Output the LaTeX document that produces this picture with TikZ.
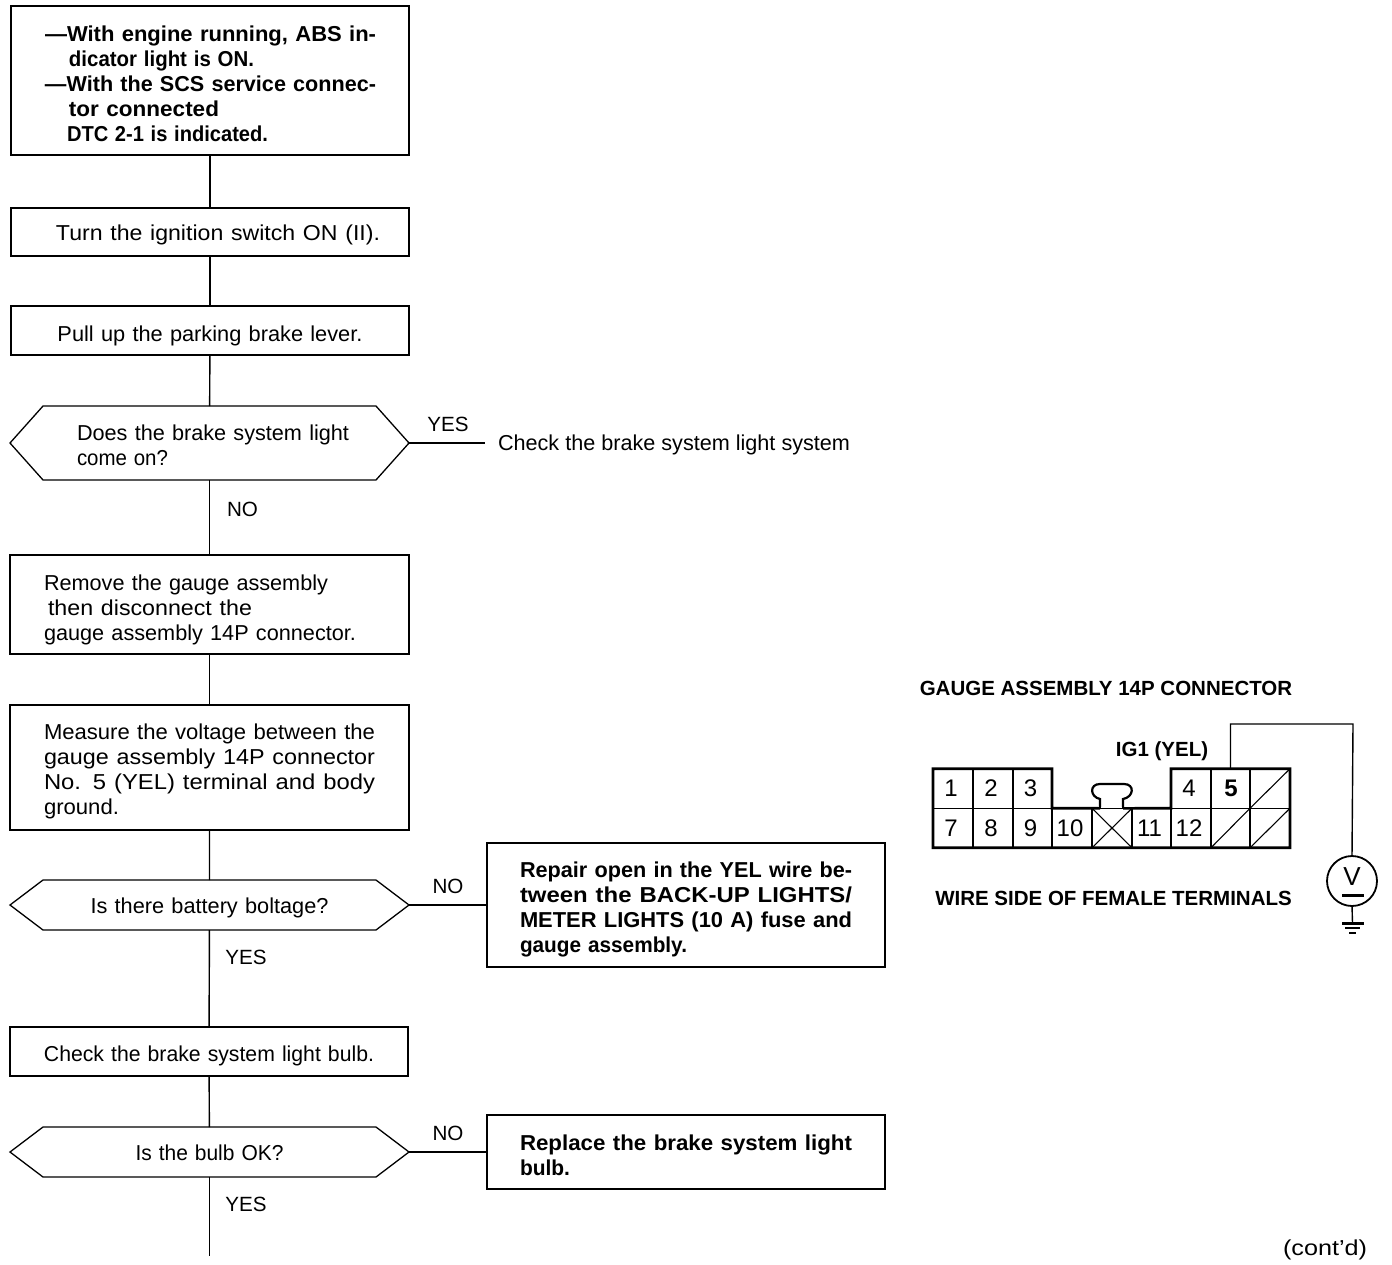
\documentclass[tikz,border=0pt]{standalone}
\usepackage{graphicx}
\usepackage{fontspec}
\setmainfont{Liberation Sans}
\usetikzlibrary{shapes.symbols}
% one line of text, set to a measured width
\newcommand{\FW}[2]{\resizebox{#1pt}{\height}{#2}}
\newcommand{\TL}[3]{\hspace*{#1pt}\FW{#2}{#3}}
\tikzset{
 x=1pt,y=-1pt,
 every node/.style={inner sep=0pt,outer sep=0pt,font=\fontsize{21.6}{25}\selectfont},
 drop/.style={execute at begin node={\rule{0pt}{\dimexpr16pt+#1\relax}}},
 flowbox/.style={draw=black,line width=1.4pt,rectangle,align=left,minimum height=#1},
 hexa/.style={draw=black,line width=1.3pt,shape=signal,signal to=west and east,align=left,minimum width=399pt},
 conn/.style={draw=black,line width=1.4pt},
 thinconn/.style={draw=black,line width=1.1pt},
 ans/.style={font=\fontsize{20.6}{25}\selectfont},
 hd/.style={font=\fontsize{20.5}{24}\bfseries\selectfont},
 strong/.style={font=\fontsize{21.6}{25}\bfseries\selectfont},
 cell/.style={draw=black,line width=1.2pt,minimum width=#1,minimum height=39.5pt,font=\fontsize{24}{28}\selectfont},
 outline/.style={draw=black,line width=2.6pt,line join=miter},
}
\begin{document}
\begin{tikzpicture}
\useasboundingbox (0,0) rectangle (1392,1264);
\fill[white] (0,0) rectangle (1392,1264);

% --- flow boxes
\node[flowbox=149pt,strong,text width=398pt,drop=7pt] (b1) at (210,80.5) {%
\TL{34}{331}{---With engine running, ABS in-}\\
\TL{58}{185}{dicator light is ON.}\\
\TL{34}{331}{---With the SCS service connec-}\\
\TL{58}{150}{tor connected}\\
\TL{56}{201}{DTC 2-1 is indicated.}};
\node[flowbox=48pt,text width=398pt,align=center,drop=6pt] (b2) at (210,232) {\hspace*{16pt}\FW{324}{Turn the ignition switch ON (II).}};
\node[flowbox=49pt,text width=398pt,align=center,drop=10pt] (b3) at (210,330.5) {\FW{305}{Pull up the parking brake lever.}};
\node[hexa,minimum height=74pt,signal pointer angle=96.5,text width=279pt,drop=4pt] (d1) at (209.5,443) {%
\TL{7}{272}{Does the brake system light}\\ \TL{7}{91}{come on?}};
\node[flowbox=99pt,text width=399pt,drop=10pt] (b4) at (209.5,604.5) {%
\TL{34}{284}{Remove the gauge assembly}\\
\TL{38}{204}{then disconnect the}\\
\TL{34}{312}{gauge assembly 14P connector.}};
\node[flowbox=125pt,text width=399pt,drop=8pt] (b5) at (209.5,767.5) {%
\TL{34}{331}{Measure the voltage between the}\\
\TL{34}{331}{gauge assembly 14P connector}\\
\TL{34}{331}{No. 5 (YEL) terminal and body}\\
\TL{34}{75}{ground.}};
\node[hexa,minimum height=50pt,signal pointer angle=74.3,text width=238pt,align=center,drop=6pt] (d2) at (209.5,905) {\FW{238}{Is there battery boltage?}};
\node[flowbox=49pt,text width=398pt,align=center,drop=8pt] (b6) at (209,1051.5) {\FW{330}{Check the brake system light bulb.}};
\node[hexa,minimum height=50pt,signal pointer angle=74.3,text width=148pt,align=center,drop=2pt] (d3) at (209.5,1152) {\FW{148}{Is the bulb OK?}};
\node[flowbox=124pt,strong,text width=398pt,drop=8pt] (r1) at (686,905) {%
\TL{33}{332}{Repair open in the YEL wire be-}\\
\TL{33}{332}{tween the BACK-UP LIGHTS/}\\
\TL{33}{332}{METER LIGHTS (10 A) fuse and}\\
\TL{33}{167}{gauge assembly.}};
\node[flowbox=74pt,strong,text width=398pt,drop=6pt] (r2) at (686,1152) {%
\TL{33}{332}{Replace the brake system light}\\
\TL{33}{50}{bulb.}};
\node[anchor=west,inner xsep=13pt] (chk) at (485,445) {\FW{352}{Check the brake system light system}};
\coordinate (endl) at (209.5,1256);

% --- connectors
\draw[conn] (b1) -- (b2);
\draw[conn] (b2) -- (b3);
\draw[conn] (b3) -- (d1);
\draw[conn] (d1) -- (b4);
\draw[conn] (b4) -- (b5);
\draw[conn] (b5) -- (d2);
\draw[conn] (d2) -- (b6);
\draw[conn] (b6) -- (d3);
\draw[conn] (d3) -- (endl);
\draw[thinconn] (d1.east) -- (chk.west |- d1.east);
\draw[conn] (d2.east) -- (r1.west |- d2.east);
\draw[conn] (d3.east) -- (r2.west |- d3.east);

% --- answers
\node[ans] (yes1) at (448,424) {YES};
\node[ans] (no1) at (242.5,509) {NO};
\node[ans] (no2) at (448,886) {NO};
\node[ans] (yes2) at (246,957) {YES};
\node[ans] (no3) at (448,1133) {NO};
\node[ans] (yes3) at (246,1204) {YES};

% --- connector diagram
\node[hd] (title) at (1106,688) {GAUGE ASSEMBLY 14P CONNECTOR};
\node[hd] (wire) at (1113.5,898) {WIRE SIDE OF FEMALE TERMINALS};
\node[hd] (ig) at (1162,751) {IG1 (YEL)};

\foreach \n/\t/\cx/\w in {c1/1/953/40,c2/2/993/40,c3/3/1032.5/39,c4/4/1191/40,c6//1270/40}
  \node[cell=\w pt] (\n) at (\cx,788.5) {\t\hspace*{4pt}};
\node[cell=39pt] (c5) at (1230.5,788.5) {\hspace*{1pt}\textbf{5}};
\foreach \n/\t/\cx/\w in {c7/7/953/40,c8/8/993/40,c9/9/1032.5/39,c10/10/1072/40,cx//1112/40,c11/11/1151.5/39,c12/12/1191/40,c13//1230.5/39,c14//1270/40}
  \node[cell=\w pt] (\n) at (\cx,828) {\t\hspace*{4pt}};
\draw[thinconn] (c6.south west) -- (c6.north east);
\draw[thinconn] (c13.south west) -- (c13.north east);
\draw[thinconn] (c14.south west) -- (c14.north east);
\draw[thinconn] (cx.south west) -- (cx.north east);
\draw[thinconn] (cx.north west) -- (cx.south east);
% latch
\coordinate (la) at (1100,808.3);
\coordinate (lb) at (1123,808.3);
\draw[draw=black,line width=2.2pt,fill=white] (la) -- (1100,799) .. controls (1090,797) and (1089,784) .. (1100,784)
  -- (1124,784) .. controls (1135,784) and (1134,797) .. (1123,799) -- (lb);
\draw[draw=white,line width=3pt] (la) -- (lb);
\draw[draw=black,line width=0.9pt] (la) -- (lb);
\draw[draw=black,line width=2.2pt] (la) -- (1100,799);
\draw[draw=black,line width=2.2pt] (1123,799) -- (lb);
\draw[outline] (la) -- (c10.north east) -- (c3.south east) -- (c3.north east) -- (c1.north west) -- (c7.south west)
  -- (c14.south east) -- (c6.north east) -- (c4.north west) -- (c4.south west) -- (lb);

% meter
\node[circle,draw=black,line width=1.8pt,minimum size=50pt] (vm) at (1352,881) {};
\node[font=\fontsize{26}{30}\selectfont] (vtxt) at (1352,877) {V};
\node[draw=black,fill=black,minimum width=21pt,minimum height=2pt] (vbar) at (1352.5,895) {};
\coordinate (gnd) at (1352.5,923);
\draw[conn] (c5.north) -- (c5.north |- 0,724) -- (1353,724) -- (vm.north);
\draw[conn] (vm.south) -- (gnd);
\node[draw=black,fill=black,minimum width=21pt,minimum height=1.4pt] (g1) at (gnd) {};
\node[draw=black,fill=black,minimum width=14pt,minimum height=1.2pt] (g2) at (1352.5,928) {};
\node[draw=black,fill=black,minimum width=6pt,minimum height=1pt] (g3) at (1352.5,933) {};

\node (contd) at (1325,1250) {\FW{84}{(cont'd)}};
\end{tikzpicture}
\end{document}
